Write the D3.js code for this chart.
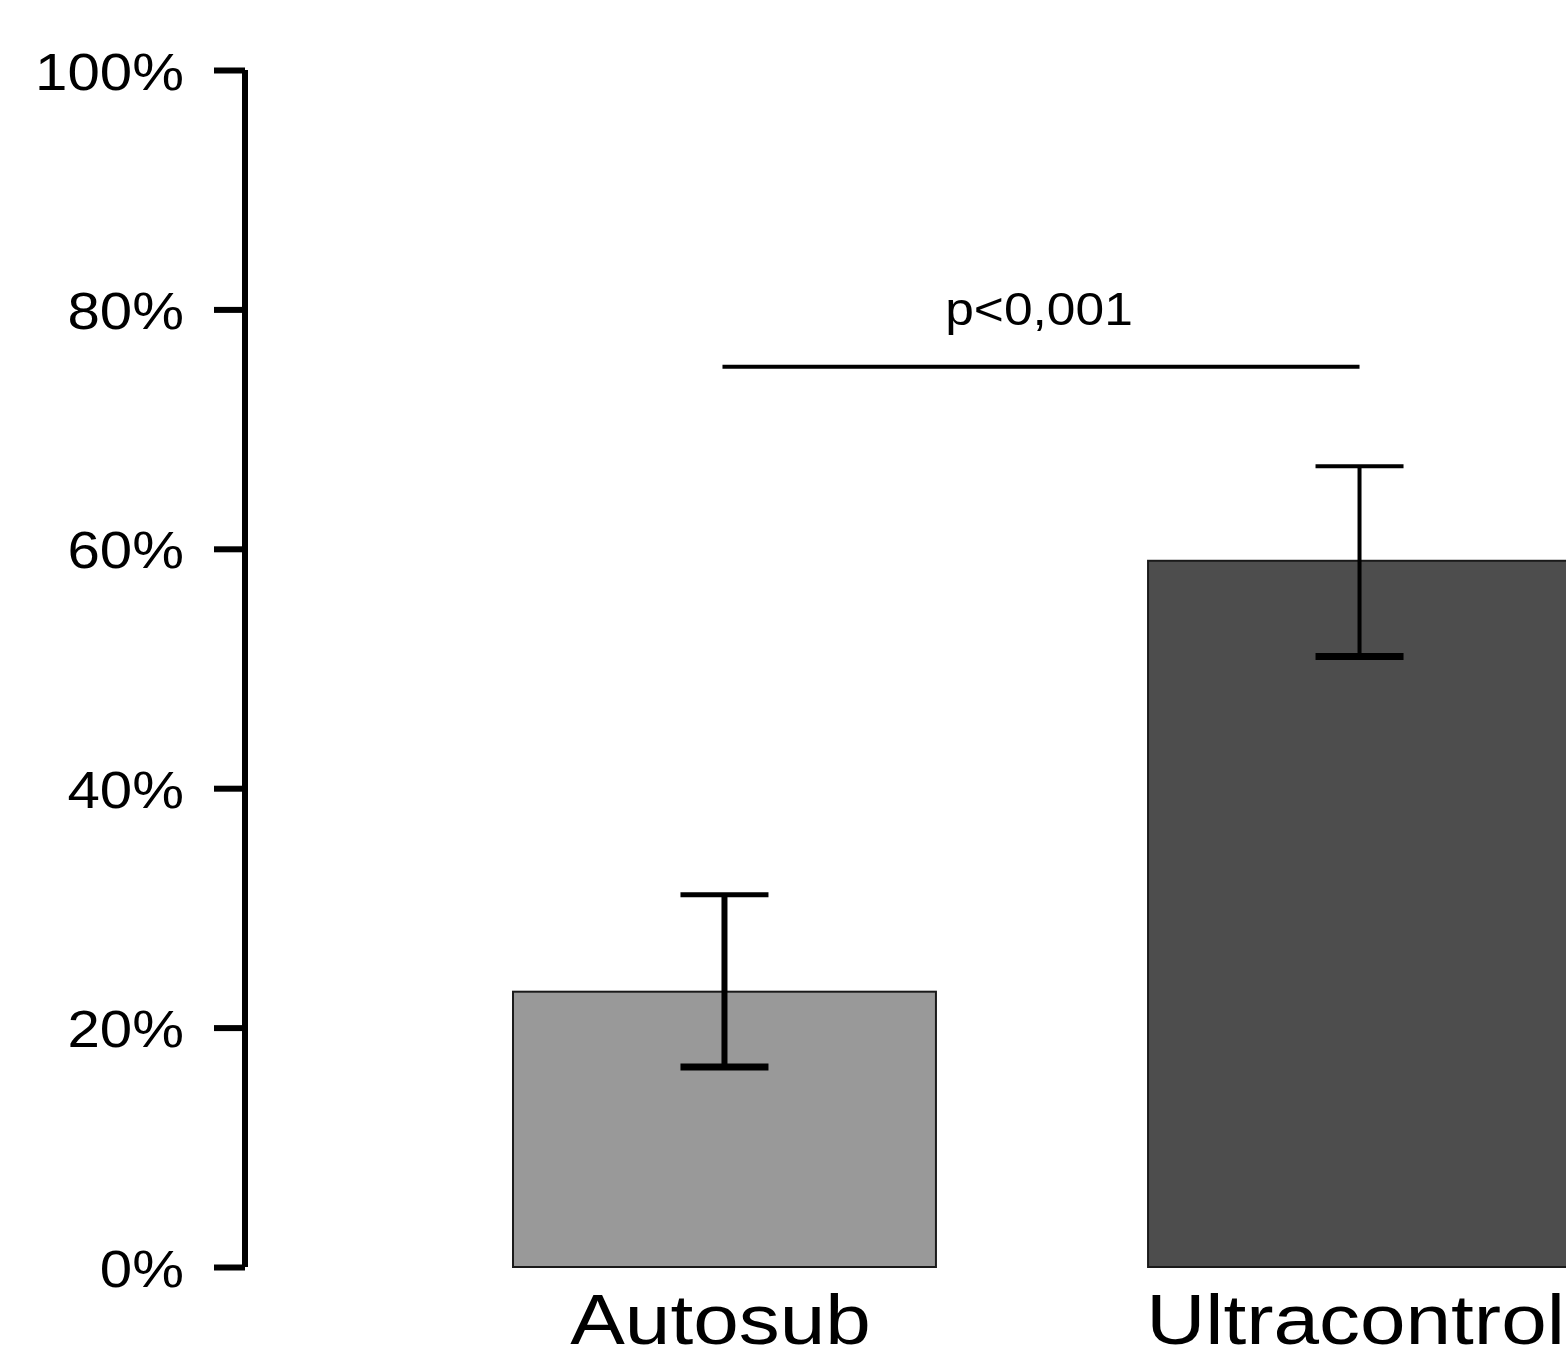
<!DOCTYPE html>
<html>
<head>
<meta charset="utf-8">
<script src="https://cdn.jsdelivr.net/npm/d3@7"></script>
<style>
  html, body { margin: 0; padding: 0; background: #fff; overflow: hidden; }
  text { font-family: "Liberation Sans", Arial, sans-serif; fill: #000; }
</style>
</head>
<body>
<div id="chart"></div>
<script>
const categories = ["Autosub", "Ultracontrol"],
  values = [23.0, 59.0],
  errLow = [16.7, 51.0],
  errHigh = [31.1, 66.9],
  barColors = ["#999999", "#4d4d4d"],
  yTicks = [0, 20, 40, 60, 80, 100],
  sigLevel = 75.2,
  sigLabel = "p<0,001";

const width = 1566,
  height = 1359,
  stretch = 1.12; // text in the source is a bit wide

const svg = d3.select('#chart').append('svg')
  .attr('width', width)
  .attr('height', height);

const y = d3.scaleLinear()
  .domain([0, 100])
  .range([1267, 70]);

const x = d3.scaleBand()
  .domain(categories)
  .range([513, 1571])
  .paddingInner(0.334)
  .paddingOuter(0);

// bars
svg.append('g').selectAll('rect')
  .data(categories)
  .enter()
  .append('rect')
  .attr('x', d => x(d))
  .attr('y', (d, i) => y(values[i]))
  .attr('width', x.bandwidth())
  .attr('height', (d, i) => y(0) - y(values[i]))
  .attr('fill', (d, i) => barColors[i])
  .attr('stroke', '#1a1a1a')
  .attr('stroke-width', 2);

// error bars
const err = svg.append('g').attr('stroke', '#000');
categories.forEach((c, i) => {
  const cx = x(c) + x.bandwidth() / 2;
  err.append('line')
    .attr('x1', cx).attr('x2', cx)
    .attr('y1', y(errHigh[i])).attr('y2', y(errLow[i]))
    .attr('stroke-width', i == 0 ? 6 : 4);
  err.append('line')
    .attr('x1', cx - 44).attr('x2', cx + 44)
    .attr('y1', y(errHigh[i])).attr('y2', y(errHigh[i]))
    .attr('stroke-width', i == 0 ? 5 : 4);
  err.append('line')
    .attr('x1', cx - 44).attr('x2', cx + 44)
    .attr('y1', y(errLow[i])).attr('y2', y(errLow[i]))
    .attr('stroke-width', 7);
});

// y axis
const yAxis = svg.append('g')
  .attr('transform', 'translate(245,0)')
  .call(d3.axisLeft(y).tickValues(yTicks).tickSize(31).tickPadding(0).tickFormat(d => d + '%'));
yAxis.select('.domain')
  .attr('d', 'M0,' + y(100) + 'V' + y(0))
  .attr('stroke', '#000')
  .attr('stroke-width', 6);
yAxis.selectAll('.tick line')
  .attr('stroke', '#000')
  .attr('stroke-width', 6);
yAxis.selectAll('.tick text')
  .attr('x', null)
  .attr('dy', null)
  .attr('text-anchor', 'end')
  .attr('font-size', 52)
  .attr('font-family', null)
  .attr('fill', '#000')
  .attr('transform', 'translate(-61,19) scale(' + stretch + ',1)');

// category labels
svg.append('g').selectAll('text')
  .data(categories)
  .enter()
  .append('text')
  .attr('text-anchor', 'middle')
  .attr('font-size', 70)
  .attr('transform', d => 'translate(' + (x(d) + x.bandwidth() / 2 - 4) + ',1344) scale(1.17,1)')
  .text(d => d);

// significance bracket
const c0 = x(categories[0]) + x.bandwidth() / 2,
  c1 = x(categories[1]) + x.bandwidth() / 2;
svg.append('line')
  .attr('x1', c0 - 2).attr('x2', c1)
  .attr('y1', y(sigLevel)).attr('y2', y(sigLevel))
  .attr('stroke', '#000')
  .attr('stroke-width', 4);
svg.append('text')
  .attr('text-anchor', 'middle')
  .attr('font-size', 46)
  .attr('transform', 'translate(' + ((c0 + c1) / 2 - 3) + ',325) scale(' + stretch + ',1)')
  .text(sigLabel);
</script>
</body>
</html>
